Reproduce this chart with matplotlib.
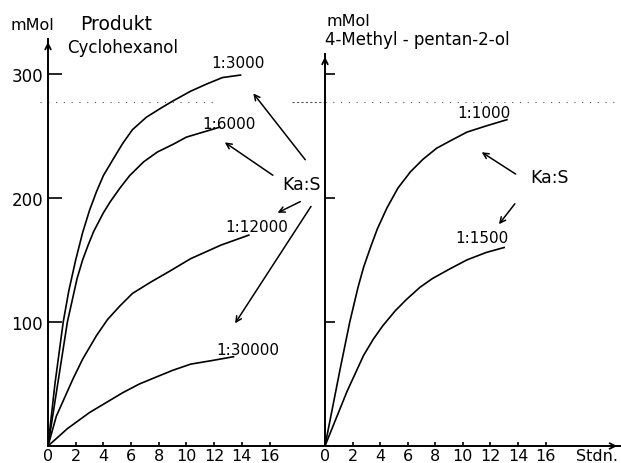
import matplotlib
matplotlib.use('Agg')
import matplotlib.pyplot as plt

plt.rcParams['font.family'] = ['DejaVu Sans']

# Cyclohexanol (left panel), hours vs mMol, one curve per Ka:S ratio
h_3000 = [0, 0.5, 1.1, 1.5, 2.0, 2.5, 3.0, 3.5, 4.0, 4.8, 5.4, 6.1, 7.1, 8.1, 9.0, 10.3, 11.5, 12.6, 13.9]
v_3000 = [0, 50, 100, 125, 150, 172, 190, 205, 218, 233, 244, 255, 265, 272, 278, 286, 292, 297, 299]
h_6000 = [0, 0.7, 1.4, 2.1, 2.5, 2.9, 3.3, 4.0, 4.5, 5.2, 5.9, 6.9, 7.9, 9.0, 10.0, 11.2, 12.4]
v_6000 = [0, 50, 100, 135, 150, 162, 173, 188, 197, 208, 218, 229, 237, 243, 249, 253, 257]
h_12000 = [0, 0.6, 1.8, 2.5, 3.5, 4.3, 5.2, 6.1, 7.4, 8.8, 10.3, 11.9, 12.5, 14.5]
v_12000 = [0, 24, 54, 70, 89, 102, 113, 123, 132, 141, 151, 159, 162, 170]
h_30000 = [0, 1.4, 3.0, 4.2, 5.4, 6.6, 7.9, 9.0, 10.3, 11.9, 13.4]
v_30000 = [0, 14, 27, 35, 43, 50, 56, 61, 66, 69, 72]

# 4-Methyl-pentan-2-ol (right panel)
h_1000 = [0, 1.1, 1.8, 2.4, 2.8, 3.3, 3.8, 4.5, 5.3, 6.2, 7.1, 8.1, 9.1, 10.3, 11.7, 13.2]
v_1000 = [0, 62, 100, 128, 144, 160, 175, 192, 208, 221, 231, 240, 246, 253, 258, 263]
h_1500 = [0, 1.6, 2.8, 3.5, 4.2, 5.1, 5.9, 6.9, 7.8, 9.1, 10.3, 11.7, 13.0]
v_1500 = [0, 44, 73, 86, 97, 109, 118, 128, 135, 143, 150, 156, 160]

x_ticks = [0, 2, 4, 6, 8, 10, 12, 14, 16]
y_ticks = [100, 200, 300]
scan_line = 277  # faint dotted line in the scan

fig = plt.figure(figsize=(6.21, 4.64), dpi=100)
ax1 = fig.add_axes([0.0773, 0.0366, 0.446, 0.877])
ax2 = fig.add_axes([0.5233, 0.0366, 0.475, 0.845])

for ax, ymax, xmax in [(ax1, 328, 20.0), (ax2, 316, 21.4)]:
    ax.set_xlim(0, xmax)
    ax.set_ylim(0, ymax)
    ax.spines['top'].set_visible(False)
    ax.spines['right'].set_visible(False)
    ax.spines['left'].set_linewidth(1.4)
    ax.spines['bottom'].set_linewidth(1.4)
    ax.set_xticks(x_ticks)
    ax.set_yticks(y_ticks)
    ax.tick_params(axis='x', direction='in', length=3, width=1.2, pad=1.5, labelsize=11.5)
    ax.tick_params(axis='y', direction='in', length=10, width=1.2, pad=3.5, labelsize=12)
    ax.patch.set_alpha(0)
    ax.annotate('', xy=(0, 1.0), xycoords='axes fraction', xytext=(0, 0.96),
                arrowprops=dict(arrowstyle='->', lw=1.3, color='black'))

ax1.axhline(scan_line, color='#555555', lw=0.8, ls=(0, (1, 6)), xmin=-0.03, xmax=0.6, clip_on=False)
ax1.axhline(scan_line, color='#555555', lw=0.8, ls=(0, (2, 2)), xmin=0.88, xmax=1.0, clip_on=False)
ax2.axhline(scan_line, color='#555555', lw=0.8, ls=(0, (1, 6)), xmin=0.0, xmax=1.0, clip_on=False)

ax2.tick_params(axis='y', labelleft=False, length=7)
ax2.annotate('', xy=(1.0, 0), xycoords='axes fraction', xytext=(0.95, 0),
             arrowprops=dict(arrowstyle='->', lw=1.3, color='black'))

lw = 1.2
ax1.plot(h_3000, v_3000, color='black', lw=lw)
ax1.plot(h_6000, v_6000, color='black', lw=lw)
ax1.plot(h_12000, v_12000, color='black', lw=lw)
ax1.plot(h_30000, v_30000, color='black', lw=lw)
ax2.plot(h_1000, v_1000, color='black', lw=lw)
ax2.plot(h_1500, v_1500, color='black', lw=lw)

lab = dict(fontsize=11, ha='center', va='center')
ax1.text(13.7, 309, '1:3000', **lab)
ax1.text(13.1, 260, '1:6000', **lab)
ax1.text(15.1, 177, '1:12000', **lab)
ax1.text(14.4, 78, '1:30000', **lab)
ax1.text(18.3, 211, 'Ka:S', fontsize=12.5, ha='center', va='center')
ax2.text(11.5, 269, '1:1000', **lab)
ax2.text(11.4, 168, '1:1500', **lab)
ax2.text(16.3, 217, 'Ka:S', fontsize=12.5, ha='center', va='center')

arr = dict(arrowstyle='->', lw=1.1, color='black')
ax1.annotate('', xy=(14.7, 286), xytext=(18.7, 229), arrowprops=arr)
ax1.annotate('', xy=(12.6, 246), xytext=(16.4, 217), arrowprops=arr)
ax1.annotate('', xy=(16.4, 187), xytext=(18.4, 198), arrowprops=arr)
ax1.annotate('', xy=(13.4, 97), xytext=(19.1, 195), arrowprops=arr)
ax2.annotate('', xy=(11.2, 238), xytext=(14.0, 218), arrowprops=arr)
ax2.annotate('', xy=(12.5, 177), xytext=(13.9, 197), arrowprops=arr)

ax2.text(19.7, -0.006, 'Stdn.', transform=ax2.get_xaxis_transform(),
         fontsize=11.5, ha='center', va='top')

fig.text(10 / 621, 1 - 26 / 464, 'mMol', fontsize=11.5, va='center', ha='left')
fig.text(80 / 621, 1 - 25 / 464, 'Produkt', fontsize=13.5, va='center', ha='left')
fig.text(67 / 621, 1 - 48 / 464, 'Cyclohexanol', fontsize=12, va='center', ha='left')
fig.text(327 / 621, 1 - 21 / 464, 'mMol', fontsize=11.5, va='center', ha='left')
fig.text(325 / 621, 1 - 40 / 464, '4-Methyl - pentan-2-ol', fontsize=12, va='center', ha='left')

fig.savefig('out.png', dpi=100)
